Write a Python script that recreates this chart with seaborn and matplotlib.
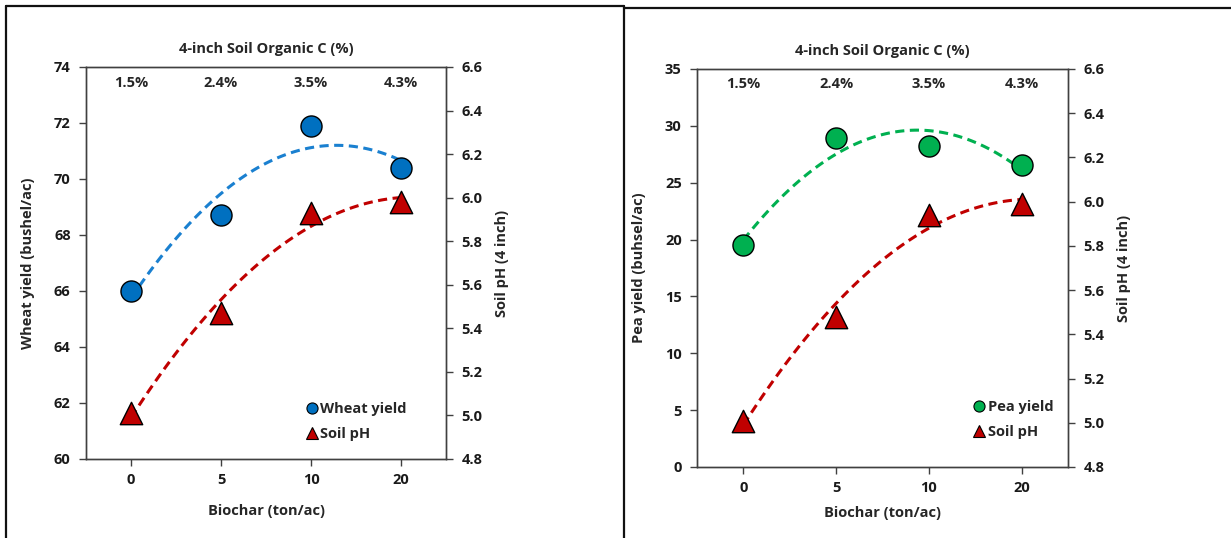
import numpy as np
import pandas as pd
import matplotlib
matplotlib.use("Agg")
import matplotlib.pyplot as plt
from matplotlib.lines import Line2D
import seaborn as sns

# ---- data ----
biochar = ["0", "5", "10", "20"]
soc_labels = ["1.5%", "2.4%", "3.5%", "4.3%"]
wheat_yield = [66.0, 68.7, 71.9, 70.4]
wheat_soil_ph = [5.01, 5.47, 5.93, 5.98]
pea_yield = [19.5, 28.9, 28.2, 26.6]
pea_soil_ph = [5.01, 5.48, 5.94, 5.99]

sns.set_theme(style="white")
plt.rcParams['font.family'] = ['Open Sans', 'DejaVu Sans']
plt.rcParams['font.weight'] = 'bold'

W, H = 1231, 538
fig = plt.figure(figsize=(W / 100, H / 100), dpi=100)

BLUE = "#0070C0"
BLUE_L = "#1a80d0"
RED = "#C00000"
GREEN = "#00B050"
SPINE = "#404040"
FS = 10.5


def panel(rect, yvals, phvals, ycolor, lcolor, ylabel, ylim, ystep, yfmt,
          legend_label, legend_pos, pct_y, xlabpad, ylabpad):
    ax = fig.add_axes([rect[0] / W, 1 - rect[3] / H,
                       (rect[2] - rect[0]) / W, (rect[3] - rect[1]) / H])
    pos = np.arange(len(biochar))
    df = pd.DataFrame({"pos": pos, "y": yvals, "ph": phvals})
    ax2 = ax.twinx()

    # trend lines (2nd order polynomial)
    sns.regplot(data=df, x="pos", y="y", order=2, ci=None, scatter=False, ax=ax,
                line_kws=dict(color=lcolor, lw=2.2, ls=(0, (3.0, 1.8)), zorder=2))
    sns.regplot(data=df, x="pos", y="ph", order=2, ci=None, scatter=False, ax=ax2,
                line_kws=dict(color=RED, lw=2.2, ls=(0, (3.0, 1.8)), zorder=2))
    # markers
    sns.scatterplot(data=df, x="pos", y="y", ax=ax, color=ycolor, marker="o", s=230,
                    edgecolor="black", linewidth=1.0, zorder=3, legend=False)
    sns.scatterplot(data=df, x="pos", y="ph", ax=ax2, color=RED, marker="^", s=260,
                    edgecolor="black", linewidth=1.0, zorder=3, legend=False)

    ax.set_xlim(-0.5, len(biochar) - 0.5)
    ax.set_ylim(*ylim)
    ax.set_yticks(np.arange(ylim[0], ylim[1] + 0.001, ystep))
    ax.yaxis.set_major_formatter(matplotlib.ticker.FormatStrFormatter(yfmt))
    ax2.set_ylim(4.8, 6.6)
    ax2.set_yticks(np.arange(4.8, 6.61, 0.2))
    ax2.yaxis.set_major_formatter(matplotlib.ticker.FormatStrFormatter("%.1f"))
    ax.set_xticks(pos)
    ax.set_xticklabels(biochar)

    for a in (ax, ax2):
        for s in a.spines.values():
            s.set_color(SPINE)
            s.set_linewidth(1.0)
        a.tick_params(labelsize=FS, colors="#1a1a1a", length=5, width=1.0)
        a.tick_params(color=SPINE)
        for lab in a.get_yticklabels() + a.get_xticklabels():
            lab.set_fontweight("bold")
    ax.tick_params(axis="y", left=True, direction="out", pad=6)
    ax.tick_params(axis="x", bottom=True, direction="out", pad=5)
    ax2.tick_params(axis="y", right=True, direction="out", pad=6)

    ax.set_xlabel("Biochar (ton/ac)", fontsize=FS, fontweight="bold", labelpad=xlabpad)
    ax.set_ylabel(ylabel, fontsize=FS, fontweight="bold", labelpad=ylabpad)
    ax2.set_ylabel("Soil pH (4 inch)", fontsize=FS, fontweight="bold", labelpad=9)
    ax.set_title("4-inch Soil Organic C (%)", fontsize=FS, fontweight="bold", pad=10)

    trans = matplotlib.transforms.blended_transform_factory(ax.transData, ax.transAxes)
    for p, lab in zip(pos, soc_labels):
        ax.text(p, pct_y, lab, transform=trans, ha="center", va="center",
                fontsize=FS, fontweight="bold")

    handles = [
        Line2D([], [], marker="o", ls="none", color=ycolor, markeredgecolor="black",
               markersize=8, markeredgewidth=0.8, label=legend_label),
        Line2D([], [], marker="^", ls="none", color=RED, markeredgecolor="black",
               markersize=8, markeredgewidth=0.8, label="Soil pH"),
    ]
    ax2.legend(handles=handles, loc="lower left", bbox_to_anchor=legend_pos,
               frameon=False, handletextpad=0.1, handlelength=1.0,
               labelspacing=0.75, borderaxespad=0,
               prop=dict(size=FS, weight="bold"))
    return ax, ax2


panel((86, 67, 446, 459), wheat_yield, wheat_soil_ph, BLUE, BLUE_L,
      "Wheat yield (bushel/ac)", (60, 74), 2, "%d", "Wheat yield",
      (0.59, 0.03), 0.958, 12, 14)
panel((697, 69, 1068, 467), pea_yield, pea_soil_ph, GREEN, GREEN,
      "Pea yield (buhsel/ac)", (0, 35), 5, "%d", "Pea yield",
      (0.725, 0.055), 0.962, 8, 14)

# panel borders
def fl(x0, y0, x1, y1):
    fig.add_artist(Line2D([x0 / W, x1 / W], [1 - y0 / H, 1 - y1 / H],
                          color="#111111", lw=1.6, transform=fig.transFigure))

fl(6, 6, 624, 6)
fl(6, 6, 6, 538)
fl(624, 6, 624, 538)
fl(624, 8, 1231, 8)

fig.savefig("out.png", dpi=100, facecolor="white")
